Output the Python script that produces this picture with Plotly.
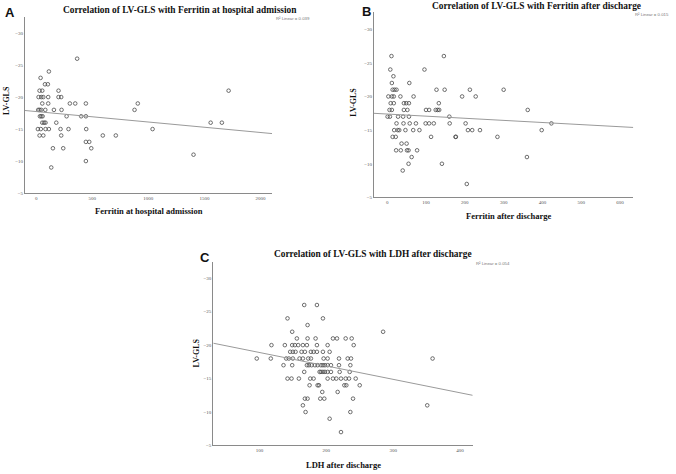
import numpy as np
import plotly.graph_objects as go

# ---------------- data ----------------
# Panel A: Ferritin at hospital admission vs LV-GLS
a_ferritin = [365,
              113,
              39,
              78, 104,
              30, 54, 199, 1716,
              21, 45, 63, 107, 199, 223,
              54, 107, 300, 348, 443, 906,
              18, 30, 45, 81, 158, 226, 877,
              33, 45, 57, 271, 401, 443,
              54, 70, 83, 179, 1556, 1656,
              15, 41, 83, 113, 217, 288, 446, 1038,
              30, 63, 223, 594, 710,
              443, 473,
              149, 241, 491,
              1403,
              443,
              134]
a_gls = [-26,
         -24,
         -23,
         -22, -22,
         -21, -21, -21, -21,
         -20, -20, -20, -20, -20, -20,
         -19, -19, -19, -19, -19, -19,
         -18, -18, -18, -18, -18, -18, -18,
         -17, -17, -17, -17, -17, -17,
         -16, -16, -16, -16, -16, -16,
         -15, -15, -15, -15, -15, -15, -15, -15,
         -14, -14, -14, -14, -14,
         -13, -13,
         -12, -12, -12,
         -11,
         -10,
         -9]

# Panel B: Ferritin after discharge vs LV-GLS
b_ferritin = [11, 146,
              8, 96,
              16,
              12, 57,
              14, 19, 24, 127, 148, 213, 300,
              3, 12, 17, 34, 68, 193, 228,
              9, 17, 43, 49, 56, 133,
              6, 12, 43, 52, 100, 108, 125, 130, 134, 362,
              1, 7, 28, 41, 56, 160,
              24, 42, 58, 74, 99, 108, 120, 161, 202, 423,
              18, 27, 31, 47, 67, 83, 208, 219, 239, 398,
              14, 22, 113, 176, 177, 284,
              37, 50,
              23, 35, 51, 55, 77,
              63, 360,
              55, 141,
              40,
              205]
b_gls = [-26, -26,
         -24, -24,
         -23,
         -22, -22,
         -21, -21, -21, -21, -21, -21, -21,
         -20, -20, -20, -20, -20, -20, -20,
         -19, -19, -19, -19, -19, -19,
         -18, -18, -18, -18, -18, -18, -18, -18, -18, -18,
         -17, -17, -17, -17, -17, -17,
         -16, -16, -16, -16, -16, -16, -16, -16, -16, -16,
         -15, -15, -15, -15, -15, -15, -15, -15, -15, -15,
         -14, -14, -14, -14, -14, -14,
         -13, -13,
         -12, -12, -12, -12, -12,
         -11, -11,
         -10, -10,
         -9,
         -7]

# Panel C: LDH after discharge vs LV-GLS
c_ldh = [167, 186,
         142, 195,
         172,
         149, 285,
         156, 172, 184, 210, 216, 229, 238,
         118, 138, 149, 153, 158, 165, 171, 186, 202, 241,
         146, 150, 154, 163, 168, 177, 181, 186, 195, 205,
         96, 117, 140, 144, 150, 160, 165, 173, 177, 196, 202, 219, 232, 237, 359,
         136, 149, 171, 174, 178, 183, 187, 192, 195, 198, 202, 207, 219, 236,
         167, 190, 192, 195, 198, 202, 207, 220, 235,
         142, 148, 159, 176, 181, 202, 210, 215, 222, 229, 234, 244,
         175, 187, 189, 227, 230, 250,
         194, 217,
         168, 172, 191, 197, 240,
         165, 351,
         169, 236,
         205,
         222]
c_gls = [-26, -26,
         -24, -24,
         -23,
         -22, -22,
         -21, -21, -21, -21, -21, -21, -21,
         -20, -20, -20, -20, -20, -20, -20, -20, -20, -20,
         -19, -19, -19, -19, -19, -19, -19, -19, -19, -19,
         -18, -18, -18, -18, -18, -18, -18, -18, -18, -18, -18, -18, -18, -18, -18,
         -17, -17, -17, -17, -17, -17, -17, -17, -17, -17, -17, -17, -17, -17,
         -16, -16, -16, -16, -16, -16, -16, -16, -16,
         -15, -15, -15, -15, -15, -15, -15, -15, -15, -15, -15, -15,
         -14, -14, -14, -14, -14, -14,
         -13, -13,
         -12, -12, -12, -12, -12,
         -11, -11,
         -10, -10,
         -9,
         -7]

# Linear fit lines as shown in the picture: (intercept, slope)
a_fit = (-17.74, 0.001637)
b_fit = (-17.39, 0.00314)
c_fit = (-20.91, 0.02008)

titles = ["Correlation of LV-GLS with Ferritin at hospital admission",
          "Correlation of LV-GLS with Ferritin after discharge",
          "Correlation of LV-GLS with LDH after discharge"]
x_titles = ["Ferritin at hospital admission", "Ferritin after discharge", "LDH after discharge"]
r2_labels = ["R² Linear = 0.039", "R² Linear = 0.015", "R² Linear = 0.054"]
panel_letters = ["A", "B", "C"]
a_xticks = [0, 500, 1000, 1500, 2000]
b_xticks = [0, 100, 200, 300, 400, 500, 600]
c_xticks = [100, 200, 300, 400]
gls_ticks = [-30, -25, -20, -15, -10, -5]

# ---------------- layout helpers ----------------
W, H = 676, 474
def fx(p):
    return p / W
def fy(p):
    return 1 - p / H

SERIF = "Liberation Serif"
SANS = "Liberation Sans"

panels = [
    dict(x=a_ferritin, y=a_gls, fit=a_fit, xt=a_xticks, xr=[-100, 2103], px=(25, 272), py=(17.2, 194.3),
         title_c=(180, 10), letter_c=(10, 12.5), r2_p=(274, 19), xt_c=(148.8, 212), yt_c=(6.7, 101)),
    dict(x=b_ferritin, y=b_gls, fit=b_fit, xt=b_xticks, xr=[-34, 634], px=(374, 633.3), py=(12.4, 198.7),
         title_c=(536.7, 6), letter_c=(366, 11.5), r2_p=(633, 15), xt_c=(509, 217), yt_c=(353.3, 103)),
    dict(x=c_ldh, y=c_gls, fit=c_fit, xt=c_xticks, xr=[31, 419], px=(213.3, 472.7), py=(263.2, 448.3),
         title_c=(373, 256), letter_c=(205, 259.5), r2_p=(474, 265.5), xt_c=(343, 467.7), yt_c=(196.7, 355)),
]

fig = go.Figure()
annotations = []
for i, p in enumerate(panels):
    sfx = "" if i == 0 else str(i + 1)
    xa, ya = "x" + sfx, "y" + sfx
    fig.add_trace(go.Scatter(x=p["x"], y=p["y"], mode="markers", xaxis=xa, yaxis=ya,
                             marker=dict(symbol="circle-open", size=3.6, color="#4a4a4a",
                                         line=dict(width=0.8, color="#4a4a4a")),
                             hoverinfo="skip"))
    intercept, slope = p["fit"]
    lx = np.array(p["xr"], dtype=float)
    fig.add_trace(go.Scatter(x=lx, y=intercept + slope * lx, mode="lines", xaxis=xa, yaxis=ya,
                             line=dict(color="#9a9a9a", width=1), hoverinfo="skip"))
    axis_common = dict(showline=True, linecolor="#8a8a8a", linewidth=1, showgrid=False,
                       zeroline=False, ticks="", mirror=False,
                       tickfont=dict(family=SERIF, size=5, color="#555555"))
    fig.update_layout(**{
        ("xaxis" + sfx): dict(axis_common, domain=[fx(p["px"][0]), fx(p["px"][1])],
                              range=p["xr"], tickvals=p["xt"], anchor=ya),
        ("yaxis" + sfx): dict(axis_common, domain=[fy(p["py"][1]), fy(p["py"][0])],
                              range=[-5, -32.5], tickvals=gls_ticks, anchor=xa),
    })
    annotations += [
        dict(text="<b>" + titles[i] + "</b>", x=fx(p["title_c"][0]), y=fy(p["title_c"][1]),
             xanchor="center", yanchor="middle", font=dict(family=SERIF, size=9.4, color="#111")),
        dict(text="<b>" + panel_letters[i] + "</b>", x=fx(p["letter_c"][0]), y=fy(p["letter_c"][1]),
             xanchor="center", yanchor="middle", font=dict(family=SANS, size=13, color="#111")),
        dict(text=r2_labels[i], x=fx(p["r2_p"][0]), y=fy(p["r2_p"][1]),
             xanchor="left", yanchor="middle", font=dict(family=SANS, size=4.3, color="#777")),
        dict(text="<b>" + x_titles[i] + "</b>", x=fx(p["xt_c"][0]), y=fy(p["xt_c"][1]),
             xanchor="center", yanchor="middle", font=dict(family=SERIF, size=8.5, color="#111")),
        dict(text="<b>LV-GLS</b>", x=fx(p["yt_c"][0]), y=fy(p["yt_c"][1]), textangle=-90,
             xanchor="center", yanchor="middle", font=dict(family=SERIF, size=8, color="#111")),
    ]

for a in annotations:
    a.update(xref="paper", yref="paper", showarrow=False)

fig.update_layout(width=W, height=H, margin=dict(l=0, r=0, t=0, b=0),
                  paper_bgcolor="white", plot_bgcolor="white", showlegend=False,
                  annotations=annotations)

fig.write_html("out.html", config={"displayModeBar": False},
               post_script="document.body.style.margin='0px';")
